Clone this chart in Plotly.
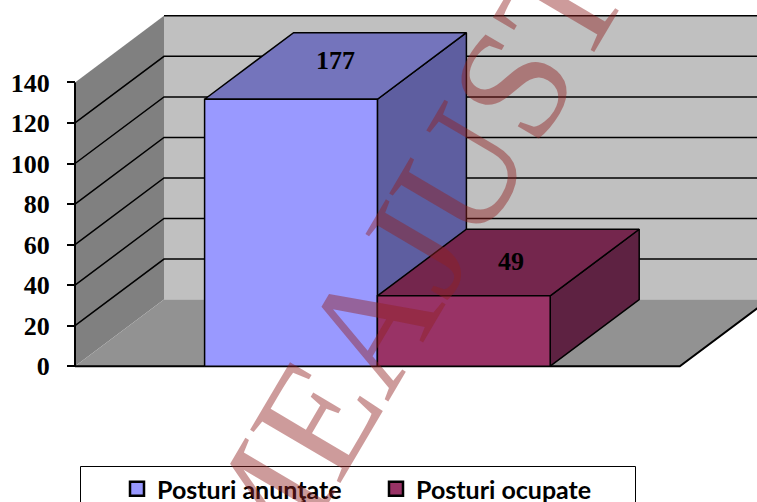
import plotly.graph_objects as go

# ---- data ----
series_names = ["Posturi anunţate", "Posturi ocupate"]
drawn_heights = [131.7, 34.7]          # bar height as read on the 0-140 axis
bar_labels = ["177", "49"]             # value labels printed on the bars
label_yshift = [5, 1]
label_xshift = [0, 3]
front_colors = ["#9999FF", "#993366"]
top_colors = ["#7474BC", "#74264D"]
side_colors = ["#5E5EA0", "#5E2242"]
y_ticks = [0, 20, 40, 60, 80, 100, 120, 140]
watermark = "MEAJUST"

# ---- oblique projection and layout, in axis units ----
W, H = 757, 502
PX_X, PX_Y = 172.8, 2.027
LEFT_PX, ZERO_PX = 75, 366.2
DX, DY = 89 / PX_X, 66.6 / PX_Y
GAP, N = 0.75, len(drawn_heights)
X_END = N + 2 * GAP
Y_MAX = 140
LINE = dict(color="#000000", width=1.5)

fig = go.Figure()


def poly(xs, ys, fill, line=LINE):
    fig.add_trace(go.Scatter(x=xs + xs[:1], y=ys + ys[:1], mode="lines", fill="toself",
                             fillcolor=fill, line=line, hoverinfo="skip", showlegend=False))


def seg(xs, ys, width=1.5):
    fig.add_trace(go.Scatter(x=xs, y=ys, mode="lines", line=dict(color="#000000", width=width),
                             hoverinfo="skip", showlegend=False))


NOLINE = dict(width=0, color="rgba(0,0,0,0)")
# walls and floor
poly([DX, X_END + DX + 2, X_END + DX + 2, DX], [DY, DY, DY + Y_MAX, DY + Y_MAX], "#C0C0C0", NOLINE)
poly([0, DX, DX, 0], [0, DY, DY + Y_MAX, Y_MAX], "#808080", NOLINE)
poly([0, X_END, X_END + DX, DX], [0, 0, DY, DY], "#929292", NOLINE)
# gridlines
for t in y_ticks[1:-1]:
    seg([0, DX, X_END + DX + 2], [t, t + DY, t + DY])
seg([DX, X_END + DX + 2], [Y_MAX + DY, Y_MAX + DY])
seg([0, 0], [0, Y_MAX], 2)
seg([0, X_END, X_END + DX], [0, 0, DY], 2)

# bars
for i, h in enumerate(drawn_heights):
    x0, x1 = GAP + i, GAP + i + 1
    poly([x1, x1 + DX, x1 + DX, x1], [0, DY, h + DY, h], side_colors[i])
    poly([x0, x1, x1 + DX, x0 + DX], [h, h, h + DY, h + DY], top_colors[i])
    poly([x0, x1, x1, x0], [0, 0, h, h], front_colors[i])

# value labels
for i, h in enumerate(drawn_heights):
    fig.add_annotation(x=GAP + i + 0.5 + DX / 2, y=h + DY / 2, text=bar_labels[i], showarrow=False,
                       yshift=label_yshift[i], xshift=label_xshift[i], xref="x", yref="y",
                       font=dict(family="Liberation Serif", size=26, color="#000000", weight=700))

# legend keys
for i, name in enumerate(series_names):
    fig.add_trace(go.Scatter(x=[None], y=[None], mode="markers", name=name,
                             marker=dict(symbol="square", size=14, color=front_colors[i],
                                         line=dict(color="#000000", width=2.5))))

# legend box
fig.add_shape(type="rect", xref="paper", yref="paper", x0=80.5 / W, x1=635.5 / W,
              y0=-0.1, y1=1 - 466.5 / H, line=dict(color="#000000", width=1),
              fillcolor="rgba(0,0,0,0)")

# watermark
fig.add_annotation(xref="paper", yref="paper", x=402 / W, y=1 - 272 / H, text=watermark, showarrow=False,
                   textangle=-59.5, xanchor="center", yanchor="middle",
                   font=dict(family="Liberation Serif", size=160, color="rgba(144,33,33,0.45)"))

fig.update_layout(
    width=W, height=H, autosize=False,
    margin=dict(l=0, r=0, t=0, b=0, autoexpand=False),
    paper_bgcolor="#FFFFFF", plot_bgcolor="#FFFFFF",
    xaxis=dict(range=[-LEFT_PX / PX_X, (W - LEFT_PX) / PX_X], visible=False, fixedrange=True),
    yaxis=dict(range=[-(H - ZERO_PX) / PX_Y, ZERO_PX / PX_Y], anchor="free", position=LEFT_PX / W,
               tickmode="array", tickvals=y_ticks, ticks="outside", ticklen=8, tickwidth=1.5,
               tickcolor="#000000", showgrid=False, zeroline=False, showline=False, fixedrange=True,
               ticklabelstandoff=12,
               tickfont=dict(family="Liberation Serif", size=26, color="#000000", weight=700)),
    legend=dict(orientation="h", x=117 / W, y=1 - 466 / H, xanchor="left", yanchor="top",
                bgcolor="rgba(0,0,0,0)", borderwidth=0, entrywidth=214, entrywidthmode="pixels",
                font=dict(family="Lato", size=25, color="#000000", weight=700)),
    showlegend=True,
)
fig.write_html("out.html", config=dict(displayModeBar=False),
               post_script="document.documentElement.style.margin='0';document.body.style.margin='0';document.body.style.overflow='hidden';")
